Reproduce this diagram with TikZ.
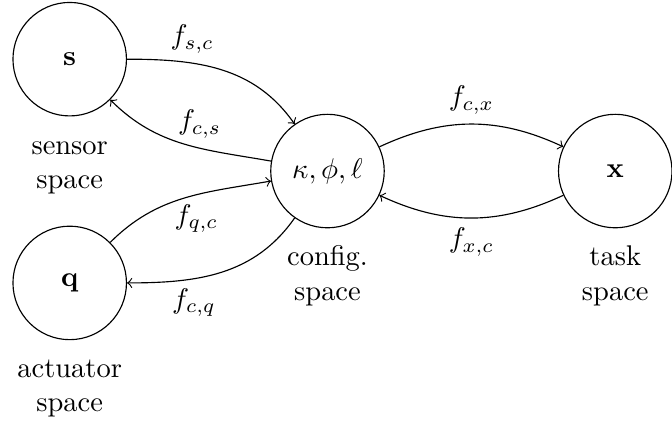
\documentclass[tikz,border=0pt]{standalone}
\usepackage{amsmath,amssymb}
\usepackage{tikz}
\usetikzlibrary{positioning}

\begin{document}
\begin{tikzpicture}[x=1cm,y=1cm,
  space/.style={circle,draw,minimum size=1.4cm,inner sep=0pt},
  spacelbl/.style={align=center,anchor=base},
  map/.style={->}]
\useasboundingbox (-4.04,-3.13) rectangle (4.25,2.11);
% the four spaces
\node[space] (c) at (0,0) {$\kappa,\phi,\ell$};
\node[space] (s) at (-3.18,1.38) {$\mathbf{s}$};
\node[space] (q) at (-3.18,-1.38) {$\mathbf{q}$};
\node[space] (x) at (3.55,0) {$\mathbf{x}$};
\node[spacelbl] (slbl) at ([yshift=-1.17cm-12pt]s.center) {sensor\\space};
\node[spacelbl] (qlbl) at ([yshift=-1.17cm-12pt]q.center) {actuator\\space};
\node[spacelbl] (clbl) at ([yshift=-1.17cm-12pt]c.center) {config.\\space};
\node[spacelbl] (xlbl) at ([yshift=-1.17cm-12pt]x.center) {task\\space};
% maps between them
\draw[map] (s) to[out=0,in=125] node[pos=0.33,above] {$f_{s,c}$} (c);
\draw[map] (c) to[out=170,in=-45] node[pos=0.4,above] {$f_{c,s}$} (s);
\draw[map] (q) to[out=45,in=190] node[pos=0.58,below] {$f_{q,c}$} (c);
\draw[map] (c) to[out=235,in=0] node[pos=0.66,below] {$f_{c,q}$} (q);
\draw[map] (c) to[bend left=25] node[midway,above] {$f_{c,x}$} (x);
\draw[map] (x) to[bend left=25] node[midway,below] {$f_{x,c}$} (c);
\end{tikzpicture}
\end{document}
